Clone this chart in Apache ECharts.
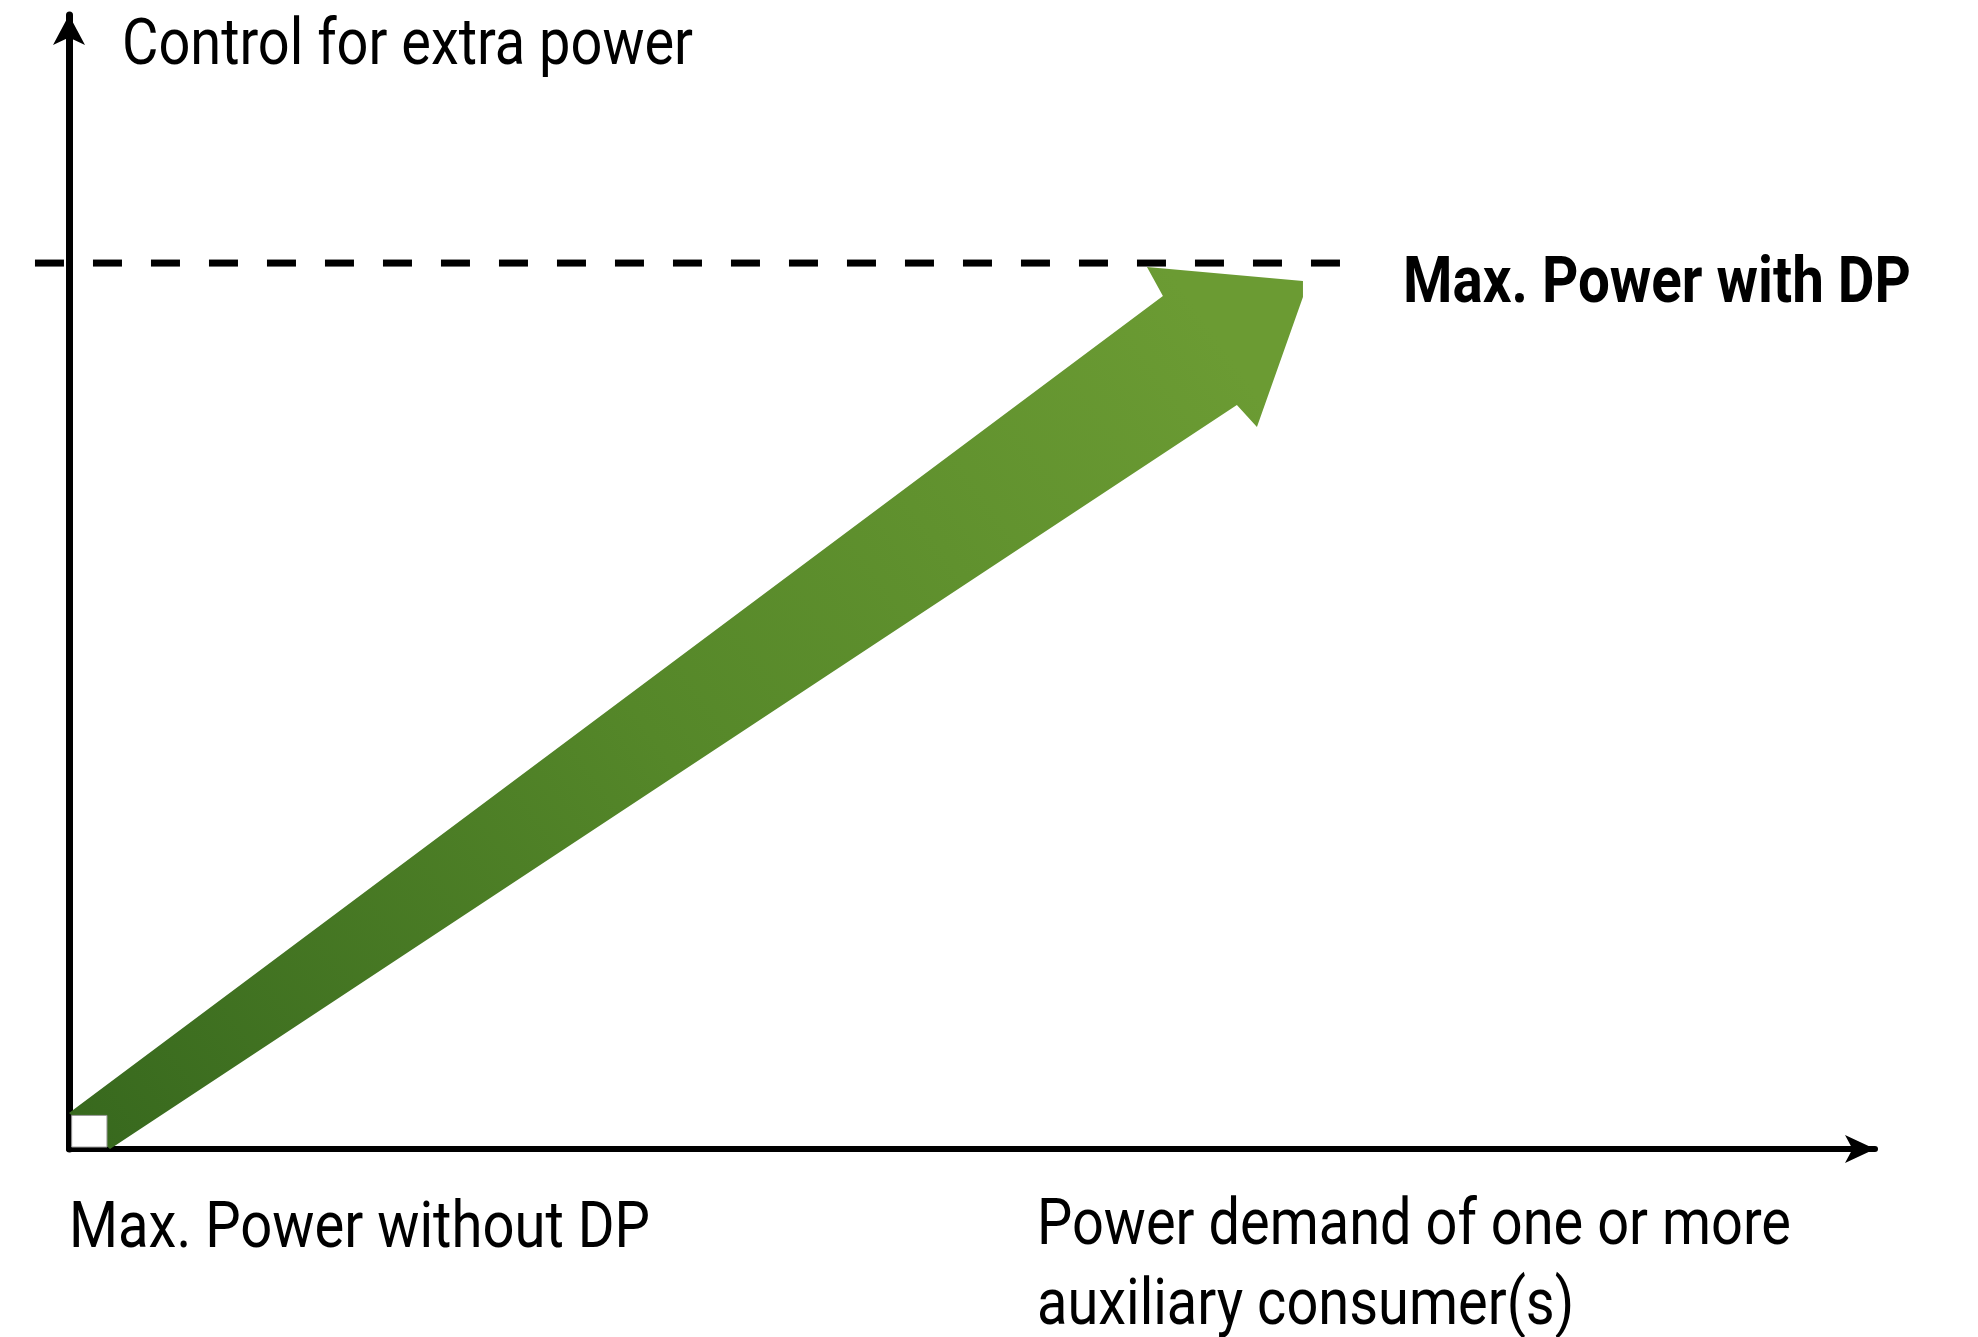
<!DOCTYPE html>
<html>
<head>
<meta charset="utf-8">
<script src="https://cdn.jsdelivr.net/npm/echarts@6/dist/echarts.min.js"></script>
<style>
html,body{margin:0;padding:0;background:#ffffff;}
#main{width:1978px;height:1337px;}
</style>
</head>
<body>
<div id="main"></div>
<script>
// ---- data (in chart value units) ----
const arrowX = [0, 61.08, 60.19, 68.90, 68.90, 66.33, 65.21, 2.29];
const arrowY = [4.06, 96.28, 99.55, 97.97, 96.16, 81.49, 83.97, 0];
const tailCapX = [0.15, 2.12];
const tailCapY = [0.22, 3.79];
const dpLevelX = [-1.9, 71.02];
const dpLevelY = [100, 100];
const yAxisLabel = 'Control for extra power';
const dpLabel = 'Max. Power with DP';
const originLabel = 'Max. Power without DP';
const xAxisLabelLines = ['Power demand of one or more', 'auxiliary consumer(s)'];

// ---- text fitting helper (narrow condensed look) ----
const mctx = document.createElement('canvas').getContext('2d');
function fitScale(text, font, targetWidth) {
  mctx.font = font;
  return targetWidth / mctx.measureText(text).width;
}
const regFont = '64px Roboto';
const boldFont = 'bold 64px Roboto';

const chart = echarts.init(document.getElementById('main'), null, {renderer: 'canvas'});

const option = {
  animation: false,
  backgroundColor: '#ffffff',
  grid: {left: 69, right: 103, top: 15, bottom: 188, containLabel: false},
  xAxis: {
    type: 'value', min: 0, max: 100.84,
    axisLine: {show: true, onZero: false, symbol: ['none', 'arrow'], symbolSize: [21, 30],
      lineStyle: {color: '#000000', width: 6}},
    axisTick: {show: false}, axisLabel: {show: false}, splitLine: {show: false}
  },
  yAxis: {
    type: 'value', min: 0, max: 128,
    axisLine: {show: true, onZero: false, symbol: ['none', 'arrow'], symbolSize: [24, 30],
      lineStyle: {color: '#000000', width: 7}},
    axisTick: {show: false}, axisLabel: {show: false}, splitLine: {show: false}
  },
  series: [
    {
      type: 'custom',
      data: [[0, 0]],
      clip: false,
      silent: true,
      z: 3,
      renderItem: function (params, api) {
        const a = api.coord([dpLevelX[0], dpLevelY[0]]);
        const b = api.coord([dpLevelX[1], dpLevelY[1]]);
        return {
          type: 'line',
          shape: {x1: a[0], y1: a[1], x2: b[0], y2: b[1]},
          style: {stroke: '#000000', lineWidth: 7, lineDash: [29, 29], lineCap: 'butt'}
        };
      }
    },
    {
      type: 'custom',
      data: [[0, 0]],
      clip: false,
      silent: true,
      z: 4,
      renderItem: function (params, api) {
        const pts = arrowX.map((x, i) => api.coord([x, arrowY[i]]));
        const p0 = api.coord([1, 2]);
        const p1 = api.coord([64, 92]);
        const c0 = api.coord([tailCapX[0], tailCapY[1]]);
        const c1 = api.coord([tailCapX[1], tailCapY[0]]);
        return {
          type: 'group',
          children: [
            {
              type: 'polygon',
              shape: {points: pts},
              style: {
                fill: new echarts.graphic.LinearGradient(p0[0], p0[1], p1[0], p1[1], [
                  {offset: 0, color: '#38691e'},
                  {offset: 0.5, color: '#558729'},
                  {offset: 1, color: '#6b9b33'}
                ], true)
              }
            },
            {
              type: 'rect',
              shape: {x: c0[0], y: c0[1], width: c1[0] - c0[0], height: c1[1] - c0[1]},
              style: {fill: '#ffffff', stroke: '#9a9a9a', lineWidth: 1}
            }
          ]
        };
      }
    }
  ],
  graphic: [
    {
      type: 'text', x: 122, y: 16,
      scaleX: fitScale(yAxisLabel, regFont, 571),
      style: {text: yAxisLabel, font: regFont, fill: '#000000', verticalAlign: 'top'}
    },
    {
      type: 'text', x: 1403, y: 254,
      scaleX: fitScale(dpLabel, boldFont, 508),
      style: {text: dpLabel, font: boldFont, fill: '#000000', verticalAlign: 'top'}
    },
    {
      type: 'text', x: 69, y: 1199,
      scaleX: fitScale(originLabel, regFont, 581),
      style: {text: originLabel, font: regFont, fill: '#000000', verticalAlign: 'top'}
    },
    {
      type: 'text', x: 1037, y: 1188,
      scaleX: fitScale(xAxisLabelLines[0], regFont, 754),
      style: {text: xAxisLabelLines.join('\n'), font: regFont, lineHeight: 80, fill: '#000000', verticalAlign: 'top'}
    }
  ]
};
chart.setOption(option);
</script>
</body>
</html>
